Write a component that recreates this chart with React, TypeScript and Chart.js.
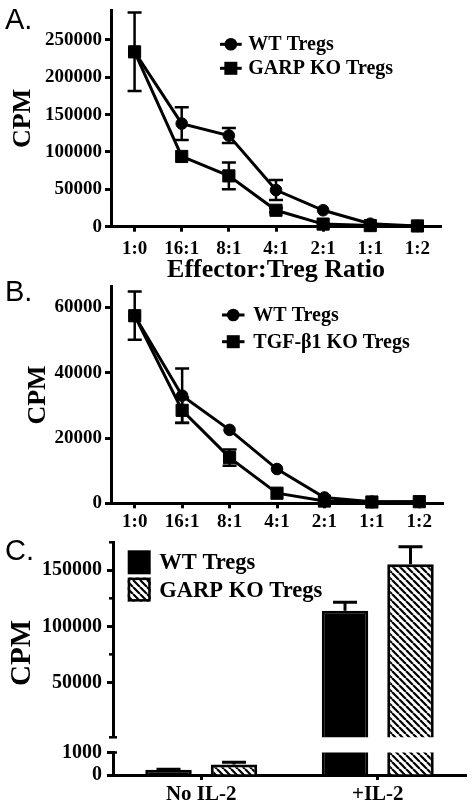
import React, { useEffect, useRef } from 'react';
import { Chart, registerables } from 'chart.js';

Chart.register(...registerables);

// ---------- data ----------
const ratios = ['1:0', '16:1', '8:1', '4:1', '2:1', '1:1', '1:2'];

const aTicks = [0, 50000, 100000, 150000, 200000, 250000];
const aWT = [234000, 138000, 122000, 49000, 22000, 4000, 1000];
const aWTErr = [52500, 22000, 10000, 13400, 0, 0, 0];
const aKO = [234000, 94000, 68000, 22000, 3500, 1500, 1000];
const aKOErr = [0, 0, 18000, 3000, 0, 0, 0];

const bTicks = [0, 20000, 40000, 60000];
const bWT = [57500, 33000, 22500, 10500, 1800, 500, 500];
const bWTErr = [7400, 8300, 0, 0, 0, 0, 0];
const bKO = [57500, 28500, 14000, 3100, 700, 400, 500];
const bKOErr = [0, 3900, 2500, 0, 0, 0, 0];

const cGroups = ['No IL-2', '+IL-2'];
const cWT = [230, 114000];
const cWTErr = [30, 7500];
const cKO = [470, 155400];
const cKOErr = [100, 15700];
const cTopTicks = [50000, 100000, 150000];
const cTopMinor = [75000, 125000, 175000];
const cBottomTicks = [0, 1000];
const cBreak = 1000;

// ---------- layout constants ----------
const SERIF = '"Liberation Serif", "Times New Roman", serif';
const SANS = '"Liberation Sans", Arial, sans-serif';
const OFF = 50;
const CW = 472;
const CH = 908;

const black = '#000';

function axisGrid(tickLength: number, offset = false) {
  return {
    display: true,
    drawOnChartArea: false,
    drawTicks: true,
    tickLength,
    tickWidth: 3,
    tickColor: black,
    offset,
  };
}
const axisBorder = { display: true, color: black, width: 3 };

function lineErrorPlugin(errors: number[][]) {
  return {
    id: 'lineErr',
    beforeDatasetsDraw(chart: any) {
      const { ctx } = chart;
      const x = chart.scales.x;
      const y = chart.scales.y;
      ctx.save();
      ctx.strokeStyle = black;
      ctx.lineWidth = 2.5;
      chart.data.datasets.forEach((ds: any, i: number) => {
        const errs = errors[i];
        (ds.data as number[]).forEach((v, j) => {
          const e = errs[j];
          if (!e) return;
          const px = x.getPixelForValue(j);
          const t = y.getPixelForValue(v + e);
          const lowV = v - e;
          const b = y.getPixelForValue(Math.max(lowV, y.min));
          ctx.beginPath();
          ctx.moveTo(px, t);
          ctx.lineTo(px, b);
          ctx.moveTo(px - 7, t);
          ctx.lineTo(px + 7, t);
          if (lowV > y.min) {
            ctx.moveTo(px - 7, b);
            ctx.lineTo(px + 7, b);
          }
          ctx.stroke();
        });
      });
      ctx.restore();
    },
  };
}

type LegItem = { text: string; marker: 'circle' | 'rect'; x1: number; x2: number; y: number; tx: number; size: number };

function lineLegendPlugin(items: LegItem[]) {
  return {
    id: 'lineLegend',
    afterDatasetsDraw(chart: any) {
      const ctx = chart.ctx;
      items.forEach((it) => {
        const y = it.y + OFF;
        ctx.save();
        ctx.strokeStyle = black;
        ctx.fillStyle = black;
        ctx.lineWidth = 3;
        ctx.beginPath();
        ctx.moveTo(it.x1, y);
        ctx.lineTo(it.x2, y);
        ctx.stroke();
        const cx = (it.x1 + it.x2) / 2;
        if (it.marker === 'circle') {
          ctx.beginPath();
          ctx.arc(cx, y, 6.3, 0, Math.PI * 2);
          ctx.fill();
        } else {
          ctx.fillRect(cx - 6.5, y - 6.5, 13, 13);
        }
        ctx.font = `bold ${it.size}px ${SERIF}`;
        ctx.textBaseline = 'middle';
        ctx.textAlign = 'left';
        ctx.fillText(it.text, it.tx, y + 1);
        ctx.restore();
      });
    },
  };
}

function lineDatasets(wt: number[], ko: number[], koLabel: string) {
  return [
    {
      label: 'WT Tregs',
      data: wt,
      borderColor: black,
      backgroundColor: black,
      borderWidth: 3,
      pointStyle: 'circle',
      pointRadius: 5.8,
      pointBorderWidth: 1,
      pointBackgroundColor: black,
      pointBorderColor: black,
      tension: 0,
      clip: false,
    },
    {
      label: koLabel,
      data: ko,
      borderColor: black,
      backgroundColor: black,
      borderWidth: 3,
      pointStyle: 'rect',
      pointRadius: 8.6,
      pointBorderWidth: 1,
      pointBackgroundColor: black,
      pointBorderColor: black,
      tension: 0,
      clip: false,
    },
  ];
}

function makeLineConfig(opts: {
  wt: number[]; ko: number[]; wtErr: number[]; koErr: number[]; koLabel: string;
  ticks: number[]; max: number;
  top: number; bottom: number; right: number; xBottom: number;
  xTitle?: string; xTickPad: number; yTitlePad: number; legend: LegItem[];
}) {
  return {
    type: 'line',
    data: { labels: ratios, datasets: lineDatasets(opts.wt, opts.ko, opts.koLabel) },
    options: {
      responsive: false,
      maintainAspectRatio: false,
      animation: false,
      events: [],
      devicePixelRatio: 1,
      layout: {
        padding: { left: 0, right: CW - opts.right, top: opts.top + OFF, bottom: CH - (opts.xBottom + OFF) },
      },
      plugins: { legend: { display: false }, tooltip: { enabled: false }, title: { display: false } },
      scales: {
        x: {
          type: 'category',
          offset: true,
          grid: axisGrid(5, false),
          border: axisBorder,
          ticks: {
            color: black,
            font: { family: SERIF, weight: 'bold', size: 19 },
            padding: opts.xTickPad,
            maxRotation: 0,
            autoSkip: false,
          },
          title: opts.xTitle
            ? {
                display: true,
                text: opts.xTitle,
                color: black,
                font: { family: SERIF, weight: 'bold', size: 26, lineHeight: 1 },
                padding: 0,
              }
            : { display: false },
          afterFit: (s: any) => {
            s.height = opts.xBottom - opts.bottom;
          },
        },
        y: {
          type: 'linear',
          min: 0,
          max: opts.max,
          afterBuildTicks: (s: any) => {
            s.ticks = opts.ticks.map((v) => ({ value: v }));
          },
          grid: axisGrid(6),
          border: axisBorder,
          ticks: {
            color: black,
            font: { family: SERIF, weight: 'bold', size: 19 },
            padding: 3,
            autoSkip: false,
            callback: (v: any) => String(v),
          },
          title: {
            display: true,
            text: 'CPM',
            color: black,
            font: { family: SERIF, weight: 'bold', size: 26, lineHeight: 1 },
            padding: { top: opts.yTitlePad, bottom: 0 },
          },
          afterFit: (s: any) => {
            s.width = 111;
          },
        },
      },
    },
    plugins: [lineErrorPlugin([opts.wtErr, opts.koErr]), lineLegendPlugin(opts.legend)],
  };
}

function makeHatch(): CanvasPattern | string {
  const s = 7;
  const tile = document.createElement('canvas');
  tile.width = s;
  tile.height = s;
  const t = tile.getContext('2d');
  if (!t) return '#fff';
  t.fillStyle = '#fff';
  t.fillRect(0, 0, s, s);
  t.strokeStyle = black;
  t.lineWidth = 2.2;
  t.beginPath();
  for (const x0 of [-s, 0, s]) {
    t.moveTo(x0, 0);
    t.lineTo(x0 + s, s);
  }
  t.stroke();
  const p = t.createPattern(tile, 'repeat');
  return p || '#fff';
}

// For the upper segment of the broken axis, values below the break are not drawn there.
function aboveBreak(values: number[], isTop: boolean) {
  return values.map((v) => (isTop && v < cBreak ? null : v));
}

function barDatasets(hatch: any, isTop: boolean) {
  return [
    {
      label: 'WT Tregs',
      data: aboveBreak(cWT, isTop),
      backgroundColor: black,
      borderColor: black,
      borderWidth: 3,
      categoryPercentage: 0.742,
      barPercentage: 0.71,
      clip: 0,
    },
    {
      label: 'GARP KO Tregs',
      data: aboveBreak(cKO, isTop),
      backgroundColor: hatch,
      borderColor: black,
      borderWidth: 3,
      categoryPercentage: 0.742,
      barPercentage: 0.71,
      clip: 0,
    },
  ];
}

function barErrorPlugin(errors: number[][]) {
  return {
    id: 'barErr',
    afterDatasetsDraw(chart: any) {
      const { ctx, chartArea: a } = chart;
      const y = chart.scales.y;
      ctx.save();
      ctx.beginPath();
      ctx.rect(a.left, a.top, a.right - a.left, a.bottom - a.top);
      ctx.clip();
      ctx.strokeStyle = black;
      ctx.lineWidth = 3;
      chart.data.datasets.forEach((ds: any, i: number) => {
        const meta = chart.getDatasetMeta(i);
        meta.data.forEach((el: any, j: number) => {
          const v = ds.data[j];
          if (v === null || v === undefined) return;
          const e = errors[i][j];
          const px = el.x;
          const top = y.getPixelForValue(v + e);
          const base = y.getPixelForValue(v);
          ctx.beginPath();
          ctx.moveTo(px, base);
          ctx.lineTo(px, top);
          ctx.moveTo(px - 12, top);
          ctx.lineTo(px + 12, top);
          ctx.stroke();
        });
      });
      ctx.restore();
    },
  };
}

function cTopDecorPlugin(hatch: any) {
  return {
    id: 'cTopDecor',
    afterDraw(chart: any) {
      const { ctx, chartArea: a } = chart;
      const y = chart.scales.y;
      ctx.save();
      ctx.strokeStyle = black;
      ctx.lineWidth = 2.5;
      // minor ticks
      cTopMinor.forEach((v) => {
        const py = y.getPixelForValue(v);
        ctx.beginPath();
        ctx.moveTo(a.left - 4, py);
        ctx.lineTo(a.left, py);
        ctx.stroke();
      });
      // axis break cap
      ctx.beginPath();
      ctx.moveTo(a.left - 4, a.bottom);
      ctx.lineTo(a.left + 4, a.bottom);
      ctx.stroke();
      // legend
      const lx = 127.7;
      const y1 = 550.3 + OFF;
      const y2 = 577.6 + OFF;
      ctx.fillStyle = black;
      ctx.fillRect(lx, y1, 23, 24);
      ctx.fillStyle = hatch;
      ctx.fillRect(lx, y2, 23, 24);
      ctx.lineWidth = 2.5;
      ctx.strokeRect(lx + 1.25, y2 + 1.25, 20.5, 21.5);
      ctx.fillStyle = black;
      ctx.font = `bold 22.5px ${SERIF}`;
      ctx.textBaseline = 'middle';
      ctx.textAlign = 'left';
      ctx.fillText('WT Tregs', 159.3, 563.5 + OFF);
      ctx.fillText('GARP KO Tregs', 159.3, 591 + OFF);
      // shared y title
      ctx.save();
      ctx.translate(23, 653 + OFF);
      ctx.rotate(-Math.PI / 2);
      ctx.textAlign = 'center';
      ctx.font = `bold 29px ${SERIF}`;
      ctx.fillText('CPM', 0, 0);
      ctx.restore();
      ctx.restore();
    },
  };
}

const cBottomDecorPlugin = {
  id: 'cBottomDecor',
  afterDraw(chart: any) {
    const { ctx, chartArea: a } = chart;
    ctx.save();
    ctx.strokeStyle = black;
    ctx.lineWidth = 2.5;
    ctx.beginPath();
    ctx.moveTo(a.left - 4, a.top);
    ctx.lineTo(a.left + 4, a.top);
    ctx.stroke();
    ctx.restore();
  },
};

function makeBarConfig(part: 'top' | 'bottom', hatch: any) {
  const isTop = part === 'top';
  const top = isTop ? 542.3 : 752.5;
  const bottom = isTop ? 737.3 : 775;
  const xBottom = isTop ? bottom : 808;
  return {
    type: 'bar',
    data: { labels: cGroups, datasets: barDatasets(hatch, isTop) },
    options: {
      responsive: false,
      maintainAspectRatio: false,
      animation: false,
      events: [],
      devicePixelRatio: 1,
      layout: {
        padding: { left: 0, right: CW - 466, top: top + OFF, bottom: CH - (xBottom + OFF) },
      },
      plugins: { legend: { display: false }, tooltip: { enabled: false } },
      scales: {
        x: {
          type: 'category',
          display: !isTop,
          offset: true,
          grid: axisGrid(5, false),
          border: axisBorder,
          ticks: {
            color: black,
            font: { family: SERIF, weight: 'bold', size: 21 },
            padding: 2,
            maxRotation: 0,
            autoSkip: false,
          },
          afterFit: (s: any) => {
            s.height = xBottom - bottom;
          },
        },
        y: {
          type: 'linear',
          min: isTop ? cBreak : 0,
          max: isTop ? 175000 : cBreak,
          afterBuildTicks: (s: any) => {
            s.ticks = (isTop ? cTopTicks : cBottomTicks).map((v) => ({ value: v }));
          },
          grid: axisGrid(6),
          border: axisBorder,
          ticks: {
            color: black,
            font: { family: SERIF, weight: 'bold', size: 20, lineHeight: 1 },
            padding: 5,
            autoSkip: false,
            callback: (v: any) => String(v),
          },
          afterFit: (s: any) => {
            s.width = 113;
          },
        },
      },
    },
    plugins: [barErrorPlugin([cWTErr, cKOErr]), isTop ? cTopDecorPlugin(hatch) : cBottomDecorPlugin],
  };
}

function ChartCanvas({ make }: { make: () => any }) {
  const ref = useRef<HTMLCanvasElement>(null);
  useEffect(() => {
    const c = ref.current;
    if (!c) return;
    const chart = new Chart(c, make());
    return () => chart.destroy();
  }, []);
  return (
    <canvas
      ref={ref}
      width={CW}
      height={CH}
      style={{ position: 'absolute', left: 0, top: -OFF, width: CW, height: CH, pointerEvents: 'none' }}
    />
  );
}

const letterStyle: React.CSSProperties = {
  position: 'absolute',
  left: 5,
  font: `29px ${SANS}`,
  lineHeight: '29px',
  color: black,
};

export default function App() {
  const makeA = () =>
    makeLineConfig({
      wt: aWT, ko: aKO, wtErr: aWTErr, koErr: aKOErr, koLabel: 'GARP KO Tregs',
      ticks: aTicks, max: 290000,
      top: 10, bottom: 226.7, right: 441, xBottom: 283,
      xTitle: 'Effector:Treg Ratio', xTickPad: 6, yTitlePad: 10,
      legend: [
        { text: 'WT Tregs', marker: 'circle', x1: 220, x2: 241.7, y: 44.3, tx: 248.3, size: 20 },
        { text: 'GARP KO Tregs', marker: 'rect', x1: 220, x2: 241.7, y: 68.3, tx: 248.3, size: 20 },
      ],
    });
  const makeB = () =>
    makeLineConfig({
      wt: bWT, ko: bKO, wtErr: bWTErr, koErr: bKOErr, koLabel: 'TGF-β1 KO Tregs',
      ticks: bTicks, max: 66400,
      top: 286.7, bottom: 503.3, right: 443, xBottom: 540,
      xTickPad: 2, yTitlePad: 25,
      legend: [
        { text: 'WT Tregs', marker: 'circle', x1: 222, x2: 244.5, y: 315, tx: 253.3, size: 20 },
        { text: 'TGF-β1 KO Tregs', marker: 'rect', x1: 222, x2: 244.5, y: 341.7, tx: 253.3, size: 20 },
      ],
    });
  const makeCTop = () => makeBarConfig('top', makeHatch());
  const makeCBottom = () => makeBarConfig('bottom', makeHatch());

  return (
    <div style={{ position: 'absolute', left: 0, top: 0, width: CW, height: 808, overflow: 'hidden', background: '#fff' }}>
      <ChartCanvas make={makeA} />
      <ChartCanvas make={makeB} />
      <ChartCanvas make={makeCTop} />
      <ChartCanvas make={makeCBottom} />
      <div style={{ ...letterStyle, top: 5 }}>A.</div>
      <div style={{ ...letterStyle, top: 277 }}>B.</div>
      <div style={{ ...letterStyle, top: 536 }}>C.</div>
    </div>
  );
}
